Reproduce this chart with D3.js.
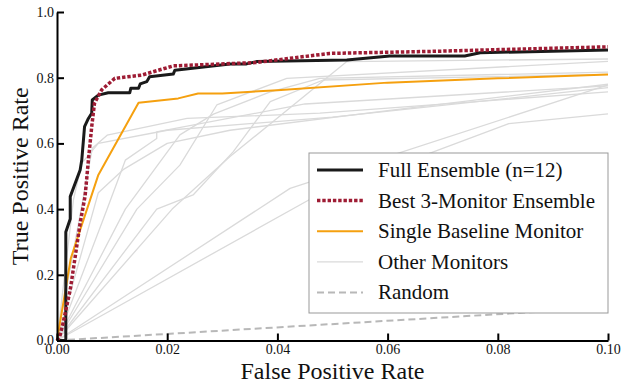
<!DOCTYPE html>
<html>
<head>
<meta charset="utf-8">
<script src="https://cdn.jsdelivr.net/npm/d3@7"></script>
<style>
  body { margin: 0; background: #fff; }
  text { font-family: 'Liberation Serif', 'DejaVu Serif', serif; fill: #111; }
</style>
</head>
<body>
<div id="chart"></div>
<script>
// ROC curves, FPR zoomed to [0, 0.1]
const fullEnsemble = [[0,0],[0.0016,0],[0.0016,0.33],[0.0024,0.37],[0.0024,0.438],[0.0042,0.519],[0.0045,0.55],
  [0.005,0.651],[0.0057,0.676],[0.0063,0.692],[0.0064,0.732],[0.0075,0.747],[0.0093,0.754],[0.0132,0.754],
  [0.0134,0.768],[0.0148,0.768],[0.0151,0.781],[0.0163,0.788],[0.0168,0.803],[0.0211,0.811],[0.0214,0.823],
  [0.0314,0.842],[0.0344,0.842],[0.0362,0.849],[0.0526,0.854],[0.0604,0.866],[0.074,0.866],[0.0768,0.876],[0.1,0.884]];
const best3 = [[0,0],[0.0005,0.012],[0.0011,0.053],[0.0024,0.154],[0.0033,0.255],[0.0042,0.357],[0.0051,0.44],
  [0.0057,0.549],[0.0063,0.651],[0.0068,0.722],[0.0081,0.763],[0.0105,0.798],[0.0154,0.808],[0.0211,0.836],
  [0.036,0.846],[0.0495,0.874],[0.0677,0.88],[0.1,0.894]];
const baseline = [[0,0],[0.0025,0.25],[0.0075,0.504],[0.0148,0.724],[0.022,0.737],[0.0256,0.752],[0.03,0.752],
  [0.04,0.762],[0.06,0.785],[0.08,0.798],[0.1,0.81]];
const otherMonitors = [
  [[0,0],[0.0064,0.585],[0.0091,0.625],[0.0236,0.676],[0.0477,0.692],[0.1,0.757]],
  [[0,0],[0.0091,0.40],[0.0124,0.549],[0.0181,0.615],[0.0181,0.635],[0.045,0.72],[0.1,0.775]],
  [[0,0],[0.0124,0.40],[0.0223,0.626],[0.0284,0.689],[0.0387,0.757],[0.0477,0.798],[0.1,0.817]],
  [[0,0],[0.0145,0.40],[0.0223,0.534],[0.029,0.717],[0.0417,0.798],[0.1,0.85]],
  [[0,0],[0.0181,0.40],[0.0247,0.443],[0.032,0.575],[0.0387,0.727],[0.0483,0.793],[0.1,0.81]],
  [[0,0],[0.0209,0.40],[0.0314,0.56],[0.0526,0.849],[0.1,0.857]],
  [[0,0],[0.0423,0.463],[0.1,0.778]],
  [[0,0],[0.047,0.44],[0.082,0.66],[0.1,0.69]],
  [[0,0],[0.003,0.43],[0.0045,0.54],[0.0075,0.6],[0.02,0.64],[0.05,0.68],[0.1,0.77]],
  [[0,0],[0.0075,0.45],[0.012,0.52],[0.02,0.6],[0.0314,0.64],[0.06,0.70],[0.1,0.78]]
];
const randomLine = [[0,0],[0.1,0.1]];
const xTicks = [0, 0.02, 0.04, 0.06, 0.08, 0.1];
const yTicks = [0, 0.2, 0.4, 0.6, 0.8, 1.0];
const legendLabels = ["Full Ensemble (n=12)", "Best 3-Monitor Ensemble", "Single Baseline Monitor", "Other Monitors", "Random"];

const width = 621, height = 383;
const margin = {top: 12, right: 13, bottom: 42.5, left: 57};
const innerW = width - margin.left - margin.right;
const innerH = height - margin.top - margin.bottom;

let svg = d3.select("#chart").append("svg")
    .attr("width", width)
    .attr("height", height);

let g = svg.append("g").attr("transform", `translate(${margin.left}, ${margin.top})`);

let x = d3.scaleLinear().domain([0, 0.1]).range([0, innerW]);
let y = d3.scaleLinear().domain([0, 1]).range([innerH, 0]);

let line = d3.line().x(d => x(d[0])).y(d => y(d[1]));

// styles for each series (also used by legend)
const styles = [
  {stroke: "#1a1a1a", width: 3, dash: null},
  {stroke: "#9e1c34", width: 3.5, dash: "3.4,1.9"},
  {stroke: "#f5a00f", width: 2, dash: null},
  {stroke: "#dadada", width: 1.3, dash: null},
  {stroke: "#b8b8b8", width: 2, dash: "7,4"}
];

function drawLine(data, s) {
  g.append("path")
    .datum(data)
    .attr("d", line)
    .attr("fill", "none")
    .attr("stroke", s.stroke)
    .attr("stroke-width", s.width)
    .attr("stroke-linejoin", "round")
    .attr("stroke-dasharray", s.dash);
}

otherMonitors.forEach(m => drawLine(m, styles[3]));
drawLine(randomLine, styles[4]);
drawLine(baseline, styles[2]);
drawLine(fullEnsemble, styles[0]);
drawLine(best3, styles[1]);

// axes: only left and bottom spines, ticks pointing in
let xAxis = g.append("g")
    .attr("transform", `translate(0, ${innerH})`)
    .call(d3.axisBottom(x).tickValues(xTicks).tickFormat(d3.format(".2f")).tickSizeInner(-7).tickSizeOuter(0).tickPadding(4));
let yAxis = g.append("g")
    .call(d3.axisLeft(y).tickValues(yTicks).tickFormat(d3.format(".1f")).tickSizeInner(-7).tickSizeOuter(0).tickPadding(5));

[xAxis, yAxis].forEach(a => {
  a.select(".domain").attr("stroke", "#000").attr("stroke-width", 2);
  a.selectAll(".tick line").attr("stroke", "#000").attr("stroke-width", 2);
  a.selectAll(".tick text").style("font-size", "14px").style("font-family", "'Liberation Serif', serif").attr("fill", "#111");
});
yAxis.selectAll(".tick text").attr("x", -3);
xAxis.selectAll(".tick text").attr("y", 4);

// axis titles
svg.append("text")
    .attr("x", margin.left + innerW / 2)
    .attr("y", 379)
    .style("text-anchor", "middle")
    .style("font-size", "24px")
    .text("False Positive Rate");

svg.append("text")
    .attr("transform", `translate(28, ${margin.top + innerH / 2}) rotate(-90)`)
    .style("text-anchor", "middle")
    .style("font-size", "24px")
    .text("True Positive Rate");

// legend
let legend = svg.append("g").attr("transform", "translate(309, 153)");
legend.append("rect")
    .attr("width", 299)
    .attr("height", 160)
    .attr("fill", "#fff")
    .attr("stroke", "#999")
    .attr("stroke-width", 1);

legendLabels.forEach((label, i) => {
  let cy = 17 + i * 30.6;
  let s = styles[i];
  legend.append("line")
    .attr("x1", 8).attr("x2", 54)
    .attr("y1", cy).attr("y2", cy)
    .attr("stroke", s.stroke)
    .attr("stroke-width", s.width)
    .attr("stroke-dasharray", s.dash);
  legend.append("text")
    .attr("x", 69)
    .attr("y", cy + 7)
    .style("font-size", "21px")
    .text(label);
});
</script>
</body>
</html>
